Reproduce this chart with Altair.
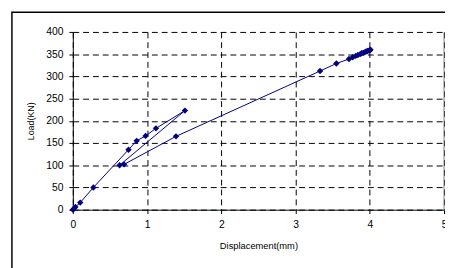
import altair as alt
import pandas as pd

# Load-displacement data (loading, unloading, reloading) in plotting order
disp = [0.0, 0.015, 0.035, 0.10, 0.277, 0.75, 0.86, 0.98, 1.12, 1.51,
        0.63, 0.69, 1.39, 3.33, 3.55, 3.72, 3.77, 3.81, 3.84, 3.87,
        3.89, 3.91, 3.93, 3.95, 3.97, 3.99, 4.0, 4.01]
load = [0, 2, 6, 16, 50, 135, 155, 166, 183, 223,
        100, 102, 165, 312, 329, 339, 343, 346, 348, 350,
        352, 353, 354, 356, 357, 358, 359, 360]

x_ticks = [0, 1, 2, 3, 4, 5]
y_ticks = [0, 50, 100, 150, 200, 250, 300, 350, 400]

df = pd.DataFrame({"disp": disp, "load": load, "order": list(range(len(disp)))})

W, H = 378, 181
FONT = "Liberation Sans"

xscale = alt.Scale(domain=[0, 5], nice=False, zero=False)
yscale = alt.Scale(domain=[0, 400], nice=False, zero=False)

x_axis = alt.Axis(values=x_ticks, format="d", title="Displacement(mm)", grid=True,
                  gridDash=[6, 4], gridColor="black", gridWidth=1,
                  domainColor="black", tickColor="black", tickSize=4,
                  labelFont=FONT, labelFontSize=10.5, labelColor="black",
                  labelPadding=6, labelOverlap=False, labelFlush=False,
                  titleFont=FONT, titleFontSize=9.5,
                  titleFontWeight="normal", titleColor="black",
                  titleX=W / 2, titleY=37, titleBaseline="middle")
y_axis = alt.Axis(values=y_ticks, format="d", title="Load(KN)", grid=True,
                  gridDash=[6, 4], gridColor="black", gridWidth=1,
                  domainColor="black", tickColor="black", tickSize=4,
                  labelFont=FONT, labelFontSize=10.5, labelColor="black",
                  labelPadding=6, labelOverlap=False, labelFlush=False,
                  titleFont=FONT, titleFontSize=9,
                  titleFontWeight="normal", titleColor="black",
                  titleX=-43, titleY=H / 2, titleAngle=-90,
                  titleAlign="center", titleBaseline="middle")

base = alt.Chart(df).encode(
    x=alt.X("disp:Q", scale=xscale, axis=x_axis),
    y=alt.Y("load:Q", scale=yscale, axis=y_axis),
)

line = base.mark_line(color="#000080", strokeWidth=1).encode(order="order:Q")
pts = base.mark_point(shape="diamond", filled=True, size=42, color="#000080",
                      opacity=1)

one = pd.DataFrame({"a": [0]})
border = alt.Chart(one).mark_rule(color="#808080", strokeWidth=1).encode(
    x=alt.value(W), y=alt.value(0), y2=alt.value(H)
)
frame = alt.Chart(one).mark_rect(fill=None, fillOpacity=0, stroke="black",
                                 strokeWidth=1.5).encode(
    x=alt.value(-62), x2=alt.value(W + 60), y=alt.value(-20), y2=alt.value(H + 100)
)

chart = alt.layer(line, pts, border, frame).properties(
    width=W, height=H,
    autosize=alt.AutoSizeParams(type="none"),
    padding={"left": 66, "top": 22, "right": 1, "bottom": 57},
    background="white",
).configure_view(strokeWidth=0)

chart.save("out.html", embed_options={"renderer": "svg", "actions": False})
